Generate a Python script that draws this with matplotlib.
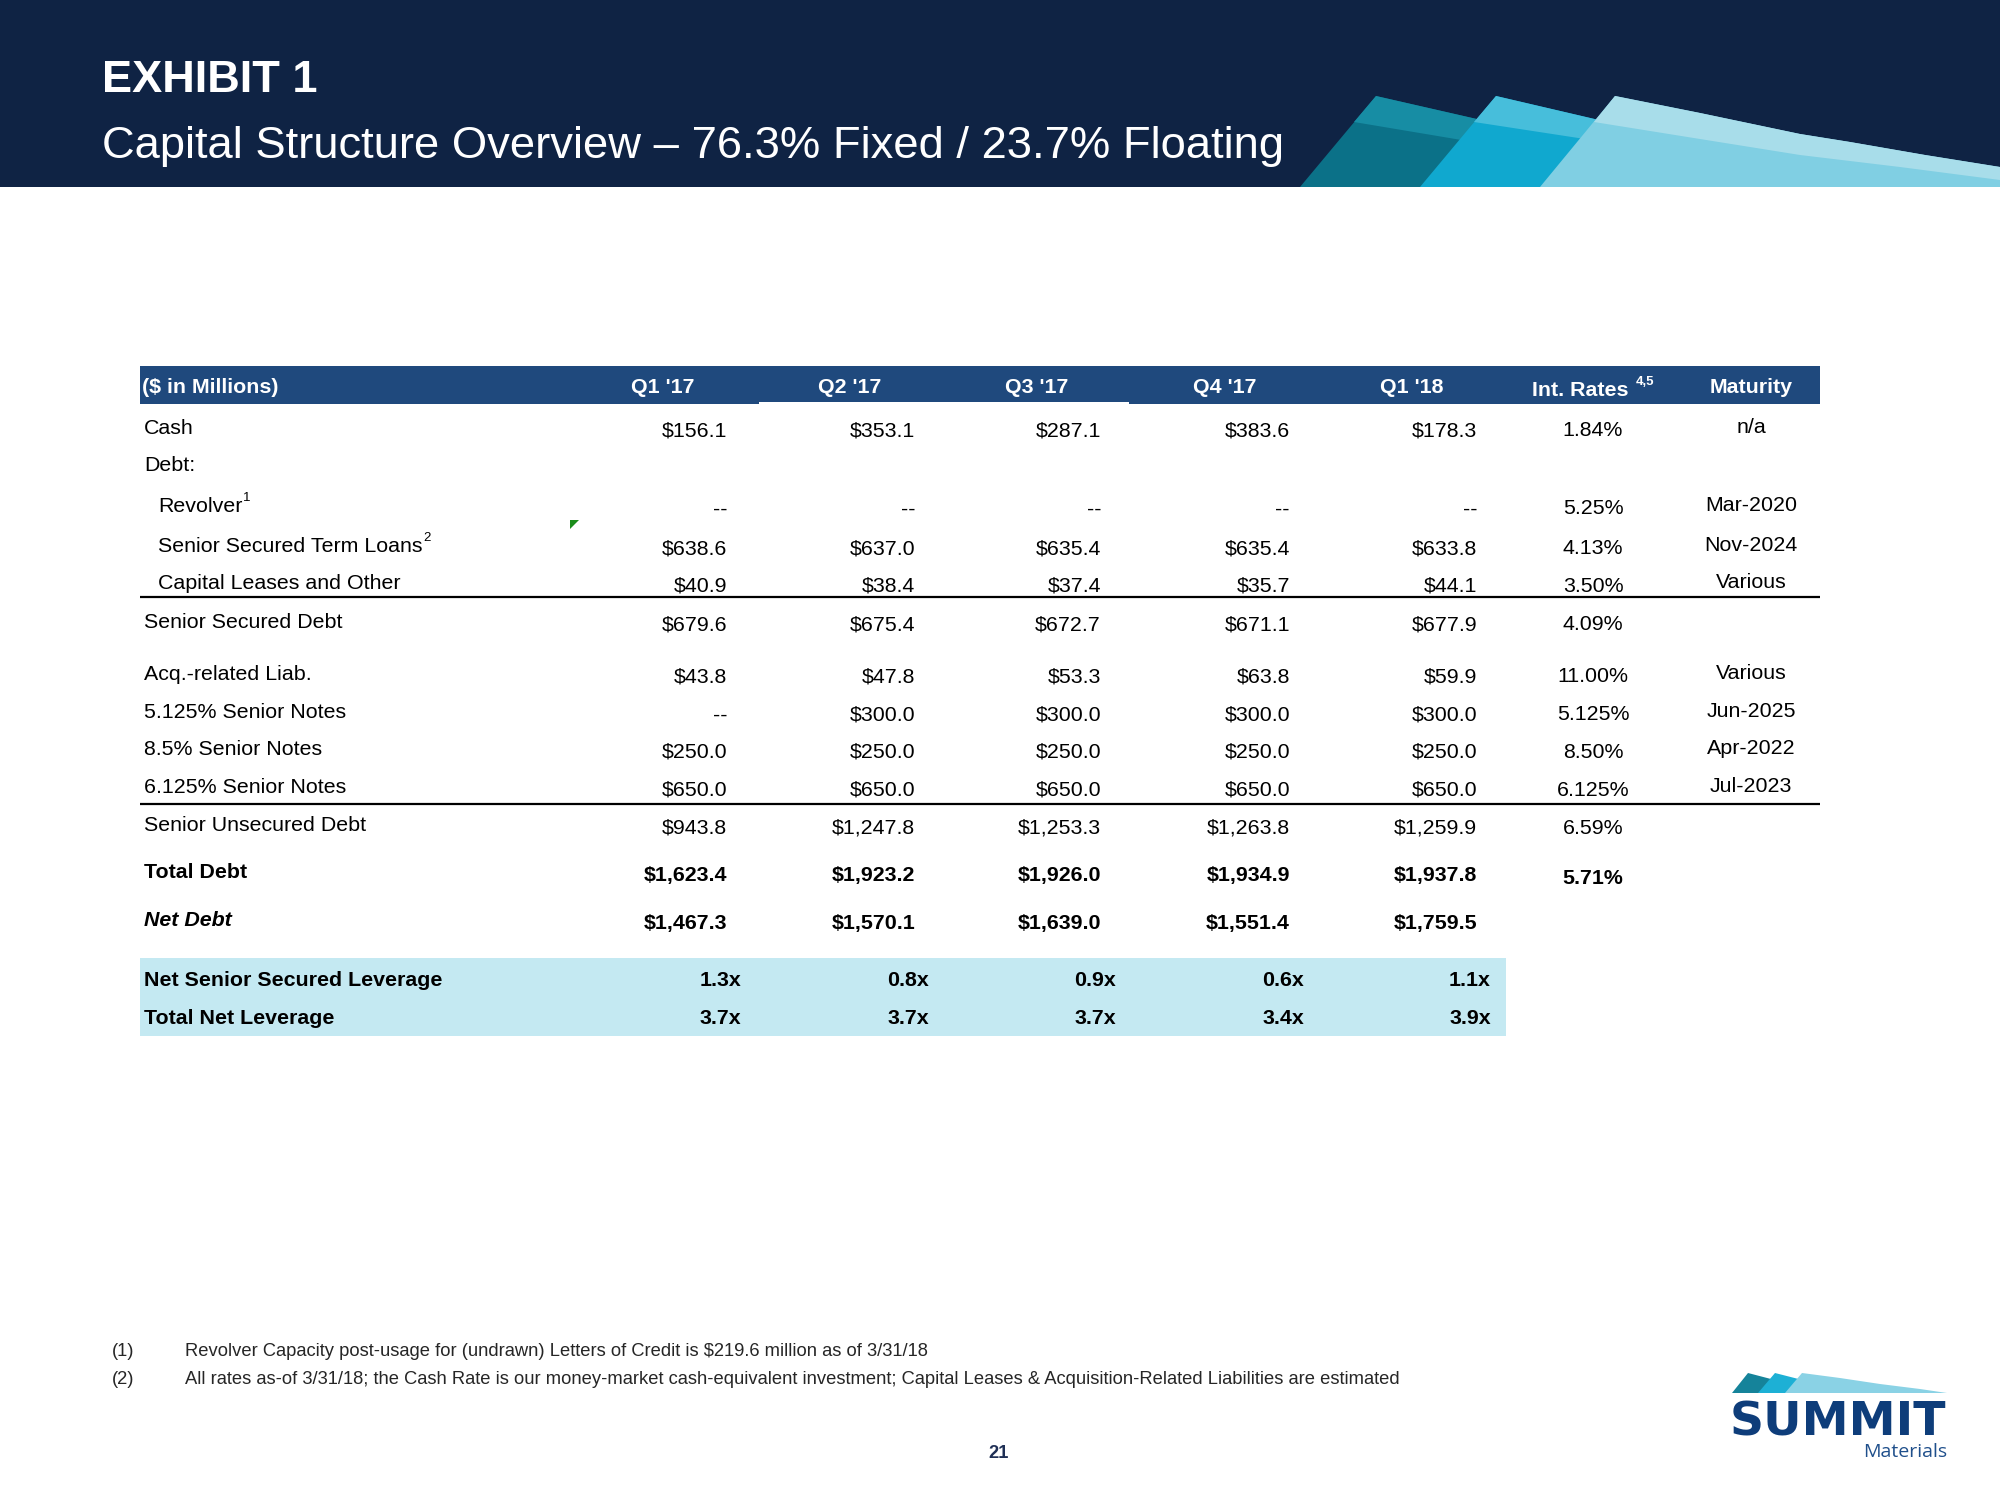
import numpy as np
import matplotlib
matplotlib.use("Agg")
import matplotlib.pyplot as plt
from matplotlib.patches import Rectangle, Polygon
import matplotlib.font_manager as fm

# ---------------- data ----------------
quarters = ["Q1 '17", "Q2 '17", "Q3 '17", "Q4 '17", "Q1 '18"]

cash = [156.1, 353.1, 287.1, 383.6, 178.3]
revolver = [None, None, None, None, None]
term_loans = [638.6, 637.0, 635.4, 635.4, 633.8]
cap_leases = [40.9, 38.4, 37.4, 35.7, 44.1]
senior_secured = [679.6, 675.4, 672.7, 671.1, 677.9]
acq_liab = [43.8, 47.8, 53.3, 63.8, 59.9]
notes_5125 = [None, 300.0, 300.0, 300.0, 300.0]
notes_85 = [250.0, 250.0, 250.0, 250.0, 250.0]
notes_6125 = [650.0, 650.0, 650.0, 650.0, 650.0]
senior_unsecured = [943.8, 1247.8, 1253.3, 1263.8, 1259.9]
total_debt = [1623.4, 1923.2, 1926.0, 1934.9, 1937.8]
net_debt = [1467.3, 1570.1, 1639.0, 1551.4, 1759.5]

net_sr_sec_leverage = [1.3, 0.8, 0.9, 0.6, 1.1]
total_net_leverage = [3.7, 3.7, 3.7, 3.4, 3.9]

row_labels = ["Cash", "Debt:", "Revolver", "Senior Secured Term Loans",
              "Capital Leases and Other", "Senior Secured Debt",
              "Acq.-related Liab.", "5.125% Senior Notes", "8.5% Senior Notes",
              "6.125% Senior Notes", "Senior Unsecured Debt", "Total Debt", "Net Debt"]
row_values = [cash, None, revolver, term_loans, cap_leases, senior_secured,
              acq_liab, notes_5125, notes_85, notes_6125, senior_unsecured,
              total_debt, net_debt]
int_rates = ["1.84%", "", "5.25%", "4.13%", "3.50%", "4.09%", "11.00%",
             "5.125%", "8.50%", "6.125%", "6.59%", "5.71%", ""]
maturities = ["n/a", "", "Mar-2020", "Nov-2024", "Various", "", "Various",
              "Jun-2025", "Apr-2022", "Jul-2023", "", "", ""]
label_notes = ["", "", "1", "2", "", "", "", "", "", "", "", "", ""]

leverage_labels = ["Net Senior Secured Leverage", "Total Net Leverage"]
leverage_values = [net_sr_sec_leverage, total_net_leverage]

header_label = "($ in Millions)"
rate_header = "Int. Rates"
rate_header_note = "4,5"
maturity_header = "Maturity"

title_1 = "EXHIBIT 1"
title_2 = "Capital Structure Overview \u2013 76.3% Fixed / 23.7% Floating"
footnotes = [("(1)", "Revolver Capacity post-usage for (undrawn) Letters of Credit is $219.6 million as of 3/31/18"),
             ("(2)", "All rates as-of 3/31/18; the Cash Rate is our money-market cash-equivalent investment; Capital Leases & Acquisition-Related Liabilities are estimated")]
page_number = "21"

# ---------------- fonts ----------------
avail = {f.name for f in fm.fontManager.ttflist}
if "Liberation Sans Narrow" in avail:
    NARROW, NS = "Liberation Sans Narrow", 1.0
else:
    NARROW, NS = "Liberation Sans", 0.88
SANS = "Liberation Sans"


def money(v):
    return "--" if v is None else f"${v:,.1f}"


# ---------------- layout ----------------
W, H = 2000, 1500
fig = plt.figure(figsize=(20, 15), dpi=100)
ax = fig.add_axes([0, 0, 1, 1])
ax.set_xlim(0, W)
ax.set_ylim(H, 0)
ax.axis("off")

NAVY = "#0F2344"
HDR_BLUE = "#1F497D"
LIGHT = "#C4E9F2"

# header band
ax.add_patch(Rectangle((0, 0), W, 187, color=NAVY, lw=0))


def poly(pts, c):
    ax.add_patch(Polygon(pts, closed=True, facecolor=c, edgecolor="none", lw=0))


# decorative wedges (A, B, C)
poly([(1300, 187), (1376, 96), (1700, 170), (1700, 187)], "#0B7188")
poly([(1354, 122), (1376, 96), (1700, 170), (1700, 180)], "#178DA4")
poly([(1420, 187), (1496, 96), (1800, 167), (1800, 187)], "#10A8CF")
poly([(1474, 122), (1496, 96), (1800, 167), (1800, 172)], "#47BEDB")
c_top = [(1615, 96), (1700, 113), (1800, 134), (1850, 142), (1925, 155), (2000, 167)]
c_low = [(2000, 180), (1900, 167), (1800, 155), (1700, 139), (1594, 122)]
poly([(1540, 187)] + c_top + [(2000, 187)], "#80CFE3")
poly(c_top + c_low, "#A8DDEA")

ax.text(102, 92, title_1, fontsize=32.5, fontweight="bold", color="white",
        family=SANS, va="baseline", ha="left")
ax.text(102, 158, title_2, fontsize=32.7, color="white", family=SANS,
        va="baseline", ha="left")

# table header bar
TX0, TX1 = 140, 1820
ax.add_patch(Rectangle((TX0, 366), TX1 - TX0, 38, color=HDR_BLUE, lw=0))
ax.add_patch(Rectangle((759, 402), 370, 2.5, color="white", lw=0))

BODY = 17.5 * NS
col_right = [727, 915, 1101, 1290, 1477]
col_center = [663, 850, 1037, 1225, 1412]
lev_right = [741, 929, 1116, 1304, 1491]
rate_x = 1593
mat_x = 1751
label_x = 144
indent_x = 158

hy = 393
ax.text(142, hy, header_label, fontsize=BODY, fontweight="bold", color="white",
        family=NARROW, va="baseline", ha="left")
for q, cx in zip(quarters, col_center):
    ax.text(cx, hy, q, fontsize=BODY, fontweight="bold", color="white",
            family=NARROW, va="baseline", ha="center")
rt = ax.text(1580, hy + 3, rate_header, fontsize=BODY, fontweight="bold",
             color="white", family=NARROW, va="baseline", ha="center")
ax.text(mat_x, hy, maturity_header, fontsize=BODY, fontweight="bold",
        color="white", family=NARROW, va="baseline", ha="center")

row_y = [425, 462, 503, 543, 580, 619, 671, 709, 746, 784, 822, 869, 917]
row_indent = [0, 0, 1, 1, 1, 0, 0, 0, 0, 0, 0, 0, 0]
row_weight = ["normal"] * 11 + ["bold", "bold"]
row_style = ["normal"] * 12 + ["italic"]
rate_weight = ["normal"] * 11 + ["bold", "normal"]

label_texts = []
for i, lab in enumerate(row_labels):
    y = row_y[i]
    x = indent_x if row_indent[i] else label_x
    t = ax.text(x, y + 9, lab, fontsize=BODY, fontweight=row_weight[i],
                fontstyle=row_style[i], color="black", family=NARROW,
                va="baseline", ha="left")
    label_texts.append(t)
    vals = row_values[i]
    if vals is not None:
        for v, xr in zip(vals, col_right):
            ax.text(xr, y + 11.5, money(v), fontsize=BODY, fontweight=row_weight[i],
                    color="black", family=NARROW, va="baseline", ha="right")
    if int_rates[i]:
        dy = 14.5 if rate_weight[i] == "bold" else 11.5
        ax.text(rate_x, y + dy, int_rates[i], fontsize=BODY, fontweight=rate_weight[i],
                color="black", family=NARROW, va="baseline", ha="center")
    if maturities[i]:
        ax.text(mat_x, y + 8, maturities[i], fontsize=BODY, color="black",
                family=NARROW, va="baseline", ha="center")

# rules
ax.plot([TX0, TX1], [597, 597], color="black", lw=1.6, solid_capstyle="butt")
ax.plot([TX0, TX1], [804, 804], color="black", lw=1.6, solid_capstyle="butt")

# leverage band
ax.add_patch(Rectangle((TX0, 958), 1506 - TX0, 78, color=LIGHT, lw=0))
lev_y = [977, 1015]
for lab, vals, y in zip(leverage_labels, leverage_values, lev_y):
    ax.text(label_x, y + 9, lab, fontsize=BODY, fontweight="bold", color="black",
            family=NARROW, va="baseline", ha="left")
    for v, xr in zip(vals, lev_right):
        ax.text(xr, y + 9, f"{v:.1f}x", fontsize=BODY, fontweight="bold",
                color="black", family=NARROW, va="baseline", ha="right")

# small green indicator
poly([(570, 520), (579, 520), (570, 529)], "#1A8C1A")

# superscripts (placed after measuring text)
fig.canvas.draw()
rend = fig.canvas.get_renderer()
for t, note in zip(label_texts, label_notes):
    if note:
        bb = t.get_window_extent(rend)
        x_end = bb.x1
        y_base = t.get_position()[1]
        ax.text(x_end + 1, y_base - 11, note, fontsize=BODY * 0.62, color="black",
                family=NARROW, va="baseline", ha="left")
bb = rt.get_window_extent(rend)
ax.text(bb.x1 + 8, hy - 8, rate_header_note, fontsize=BODY * 0.62, fontweight="bold",
        color="white", family=NARROW, va="baseline", ha="left")

# footnotes
FN = 15 * NS
for (num, txt), y in zip(footnotes, [1356, 1384]):
    ax.text(112, y, num, fontsize=FN, color="#262626", family=NARROW, va="baseline", ha="left")
    ax.text(185, y, txt, fontsize=FN, color="#262626", family=NARROW, va="baseline", ha="left")

ax.text(999, 1458, page_number, fontsize=15 * NS, fontweight="bold", color="#1F2F55",
        family=NARROW, va="baseline", ha="center")

# logo
poly([(1732, 1393), (1748, 1373), (1790, 1384), (1790, 1393)], "#15839A")
poly([(1758, 1393), (1775, 1373), (1818, 1384), (1818, 1393)], "#1DB0D5")
logo_top = [(1802, 1373), (1840, 1378), (1880, 1384), (1920, 1389), (1947, 1393)]
poly([(1785, 1393)] + logo_top, "#8AD2E5")
ax.text(1730, 1436, "SUMMIT", fontsize=34, fontweight="bold", color="#0E3D7A",
        family="DejaVu Sans", va="baseline", ha="left")
ax.text(1947, 1457, "Materials", fontsize=14, color="#1F4F8B", family="Open Sans",
        va="baseline", ha="right")

fig.savefig("out.png", dpi=100, facecolor="white")
